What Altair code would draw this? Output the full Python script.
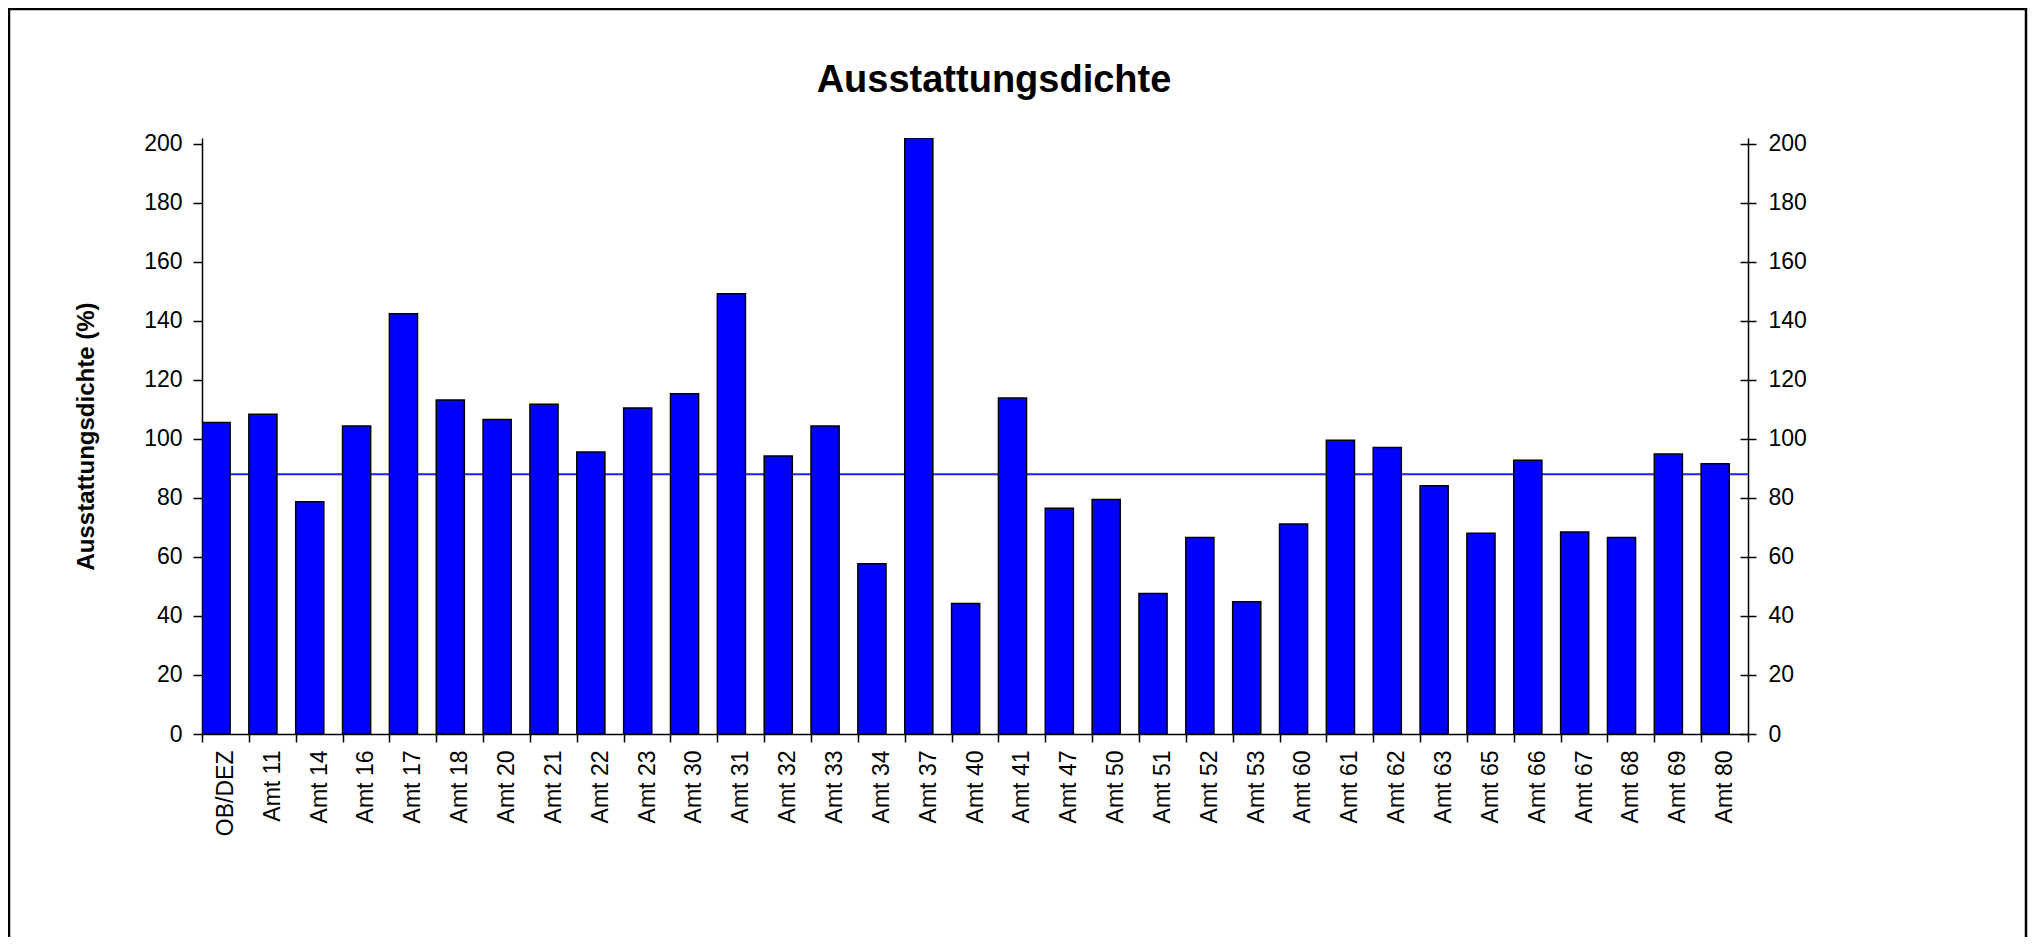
import altair as alt
import pandas as pd

categories = ["OB/DEZ", "Amt 11", "Amt 14", "Amt 16", "Amt 17", "Amt 18", "Amt 20",
              "Amt 21", "Amt 22", "Amt 23", "Amt 30", "Amt 31", "Amt 32", "Amt 33",
              "Amt 34", "Amt 37", "Amt 40", "Amt 41", "Amt 47", "Amt 50", "Amt 51",
              "Amt 52", "Amt 53", "Amt 60", "Amt 61", "Amt 62", "Amt 63", "Amt 65",
              "Amt 66", "Amt 67", "Amt 68", "Amt 69", "Amt 80"]
values = [105.6, 108.4, 78.7, 104.4, 142.4, 113.2, 106.6, 111.8, 95.6, 110.5, 115.3,
          149.2, 94.2, 104.4, 57.7, 202.0, 44.2, 113.9, 76.5, 79.5, 47.6, 66.6, 44.8,
          71.2, 99.6, 97.1, 84.1, 68.0, 92.8, 68.5, 66.6, 94.9, 91.6]
mean_value = [88.0]
y_ticks = [0, 20, 40, 60, 80, 100, 120, 140, 160, 180, 200]

FONT = "Liberation Sans"
W, H = 1546, 596
band = W / len(categories)

df = pd.DataFrame({"Kategorie": categories, "Wert": values})
mean_df = pd.DataFrame({"Mittel": mean_value})

yscale = alt.Scale(domain=[0, 202], nice=False, zero=True)

left_axis = alt.Axis(orient="left", values=y_ticks, grid=False, tickSize=9, tickWidth=1.5,
                     tickColor="black", domainColor="black", domainWidth=1.5,
                     labelFont=FONT, labelFontSize=23, labelColor="black", labelPadding=11,
                     title="Ausstattungsdichte (%)", titleFont=FONT, titleFontSize=24,
                     titleFontWeight="bold", titleColor="black", titlePadding=45)
right_axis = alt.Axis(orient="right", values=y_ticks, grid=False, tickSize=8, tickWidth=1.5,
                      tickColor="black", domainColor="black", domainWidth=1.5,
                      labelFont=FONT, labelFontSize=23, labelColor="black", labelPadding=12,
                      title=None)
inner_axis = alt.Axis(orient="left", offset=-W, values=y_ticks, grid=False, tickSize=8,
                      tickWidth=1.5, tickColor="black", domain=False, labels=False,
                      title=None)

mean_line = alt.Chart(mean_df).mark_rule(color="#1f1fff", strokeWidth=2).encode(
    y=alt.Y("Mittel:Q", scale=yscale, axis=left_axis)
)

bars = alt.Chart(df).mark_bar(
    width=alt.RelativeBandSize(0.6), xOffset=-0.2 * band,
    color="#0000ff", stroke="black", strokeWidth=1.5, clip=True
).encode(
    x=alt.X("Kategorie:N", sort=categories,
            scale=alt.Scale(paddingInner=0, paddingOuter=0),
            axis=alt.Axis(title=None, tickBand="extent", tickSize=8, tickWidth=1.5,
                          tickColor="black", domainColor="black", domainWidth=1.5,
                          labelAngle=270, labelAlign="right", labelBaseline="middle",
                          labelFont=FONT, labelFontSize=23, labelColor="black",
                          labelPadding=8, grid=False)),
    y=alt.Y("Wert:Q", scale=yscale, axis=right_axis),
    tooltip=["Kategorie", "Wert"]
)

inner_ticks = alt.Chart(mean_df).mark_rule(strokeOpacity=0).encode(
    y=alt.Y("Mittel:Q", scale=yscale, axis=inner_axis)
)

frame = alt.Chart(alt.Data(values=[{}])).mark_rect(
    fillOpacity=0, stroke="black", strokeWidth=2.5
).encode(
    x=alt.value(-193), x2=alt.value(1824), y=alt.value(-129), y2=alt.value(900)
)

chart = alt.layer(mean_line, bars, inner_ticks, frame).resolve_scale(
    y="shared"
).resolve_axis(
    y="independent"
).properties(
    width=W, height=H,
    title=alt.TitleParams("Ausstattungsdichte", font=FONT, fontSize=38, fontWeight="bold",
                          color="black", anchor="middle", frame="group", dx=19,
                          baseline="alphabetic", offset=-122),
    autosize=alt.AutoSizeParams(type="none"),
    padding={"left": 194, "top": 130, "right": 282, "bottom": 203}
).configure(font=FONT).configure_view(stroke=None)

chart.save("out.html", embed_options={"renderer": "svg", "actions": False})
